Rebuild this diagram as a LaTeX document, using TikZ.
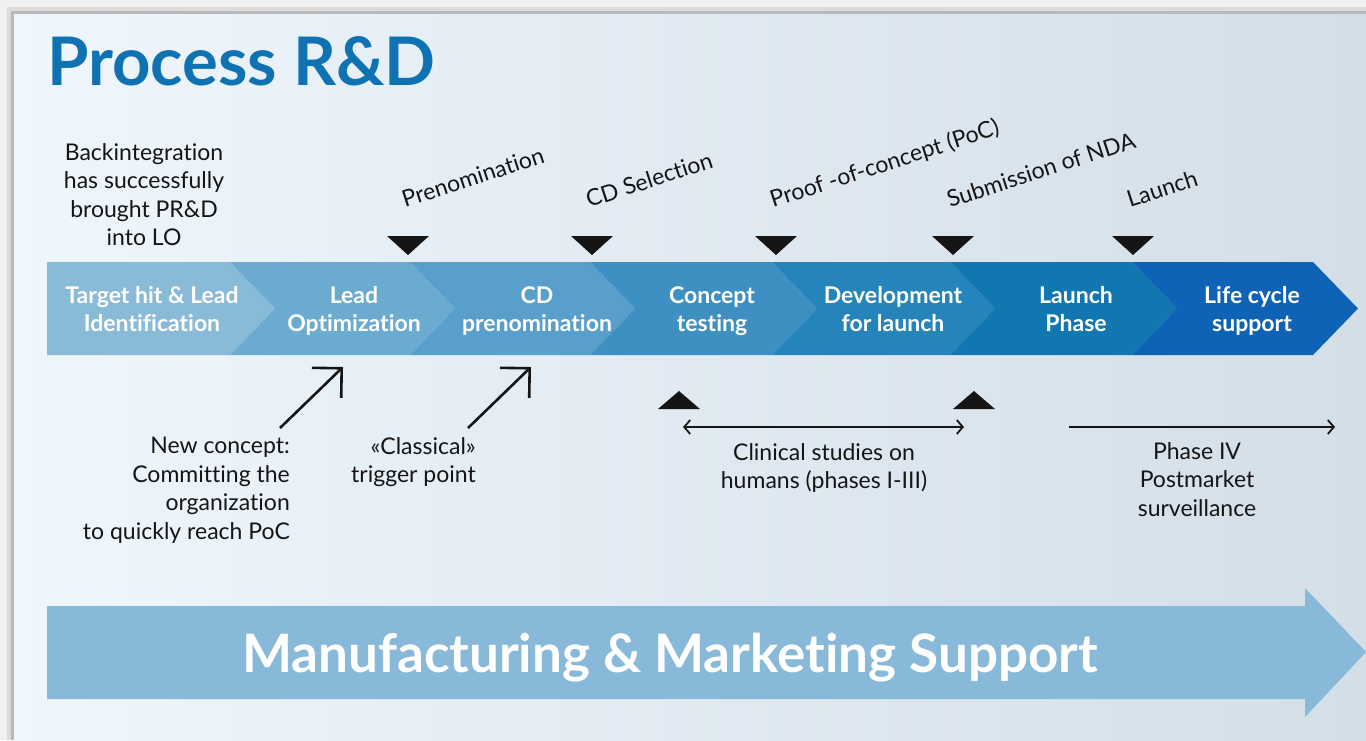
\documentclass[tikz,border=0pt]{standalone}
\usepackage{fontspec}
\setmainfont{Lato}[Ligatures=NoCommon]
\usepackage{tikz}
\usetikzlibrary{arrows.meta,calc,positioning}
\definecolor{titleblue}{HTML}{0F72B2}
\definecolor{panelL}{HTML}{EFF6FC}
\definecolor{panelR}{HTML}{D3DEE7}
\definecolor{inkblack}{HTML}{151515}
\definecolor{phaseA}{HTML}{89BAD8}
\definecolor{phaseB}{HTML}{6CABD0}
\definecolor{phaseC}{HTML}{58A0CB}
\definecolor{phaseD}{HTML}{3E90C2}
\definecolor{phaseE}{HTML}{2585BA}
\definecolor{phaseF}{HTML}{1177B1}
\definecolor{phaseG}{HTML}{0E63B6}
\definecolor{supportblue}{HTML}{88B9D8}
% chevron of the phase bar: left x, right x, colour
\newcommand{\phasechevron}[3]{%
  \fill[#3] (#1,262) -- (#2,262) -- ({#2+45},308.5) -- (#2,355) -- (#1,355) -- ({#1+45},308.5) -- cycle;}
\newcommand{\downmark}[1]{\fill[inkblack] ({#1-21},236) -- ({#1+21},236) -- (#1,255) -- cycle;}
\newcommand{\upmark}[1]{\fill[inkblack] ({#1-21},409) -- ({#1+21},409) -- (#1,391) -- cycle;}

\begin{document}
\begin{tikzpicture}[x=1pt,y=-1pt,>={Straight Barb[length=6pt,width=14pt]},
  phase/.style={anchor=north,text=white,font=\bfseries\fontsize{23}{28}\selectfont,align=center,inner sep=0pt,execute at begin node=\strut},
  milestone/.style={anchor=base west,rotate=18,text=inkblack,font=\fontsize{23}{28}\selectfont,inner sep=0pt},
  note/.style={anchor=north,text=inkblack,font=\fontsize{23}{28.5}\selectfont,inner sep=0pt,execute at begin node=\strut},
  pointer/.style={line width=2.6pt,inkblack,-{Straight Barb[length=21pt,width=42pt]}},
  spanline/.style={line width=1.8pt,inkblack}]
\useasboundingbox (0,0) rectangle (1366,740);
% frame and background panel
\fill[gray!12] (0,0) rectangle (1366,740);
\fill[gray!28] (7,7) rectangle (1366,740);
\fill[gray!55] (11,11) rectangle (1366,740);
\shade[left color=panelL,right color=panelR] (14,14) rectangle (1366,740);
\node[anchor=base west,inner sep=0pt,text=titleblue,font=\bfseries\fontsize{67}{70}\selectfont] (title) at (47,85) {Process R\&D};

% phase bar
\fill[phaseA] (47,262) -- (230,262) -- (275,308.5) -- (230,355) -- (47,355) -- cycle;
\phasechevron{230}{410}{phaseB}
\phasechevron{410}{590}{phaseC}
\phasechevron{590}{772}{phaseD}
\phasechevron{772}{950}{phaseE}
\phasechevron{950}{1132}{phaseF}
\phasechevron{1132}{1313}{phaseG}
\node[phase] (target) at (152,286) {Target hit \& Lead\\Identification};
\node[phase] (leadopt) at (354,286) {Lead\\Optimization};
\node[phase] (cdpre) at (537,286) {CD\\prenomination};
\node[phase] (concept) at (712,286) {Concept\\testing};
\node[phase] (devel) at (893,286) {Development\\for launch};
\node[phase] (launchph) at (1076,286) {Launch\\Phase};
\node[phase] (lifecycle) at (1252,286) {Life cycle\\support};

% milestones above the bar
\foreach \x/\name/\lab in {408/pre/Prenomination,592/cds/CD Selection,776/poc/Proof -of-concept (PoC),953/nda/Submission of NDA,1133/lau/Launch}{
  \downmark{\x}
  \node[milestone] (ms-\name) at ({\x-3},208) {\lab};}
\upmark{679}
\upmark{974}

\node[note,align=center] (backint) at (144,143) {Backintegration\\has successfully\\brought PR\&D\\into LO};
\node[note,align=right,anchor=north east] (newconcept) at (290,437) {New concept:\\Committing the\\organization\\to quickly reach PoC};
\node[note,align=right,anchor=north east] (classical) at (476,437) {«Classical»\\trigger point};
\coordinate (newtail) at (280,428);
\coordinate (newhead) at (343,367);
\coordinate (clatail) at (468,428);
\coordinate (clahead) at (531,367);
\draw[pointer] (newtail) -- (newhead);
\draw[pointer] (clatail) -- (clahead);

% clinical studies and phase IV
\coordinate (clinL) at (683,427);
\coordinate (clinR) at (964,427);
\draw[spanline,<->] (clinL) -- (clinR);
\node[note,align=center] (clinical) at (824,443) {Clinical studies on\\humans (phases I-III)};
\coordinate (postL) at (1069,427);
\coordinate (postR) at (1335,427);
\draw[spanline,->] (postL) -- (postR);
\node[note,align=center] (phasefour) at (1197,442) {Phase IV\\Postmarket\\surveillance};

% support arrow
\fill[supportblue] (47,606) -- (1305,606) -- (1305,588) -- (1366,652) -- (1305,717) -- (1305,699) -- (47,699) -- cycle;
\node[anchor=base,inner sep=0pt,text=white,font=\bfseries\fontsize{53}{60}\selectfont] (support) at (670,672) {Manufacturing \& Marketing Support};
\end{tikzpicture}
\end{document}
